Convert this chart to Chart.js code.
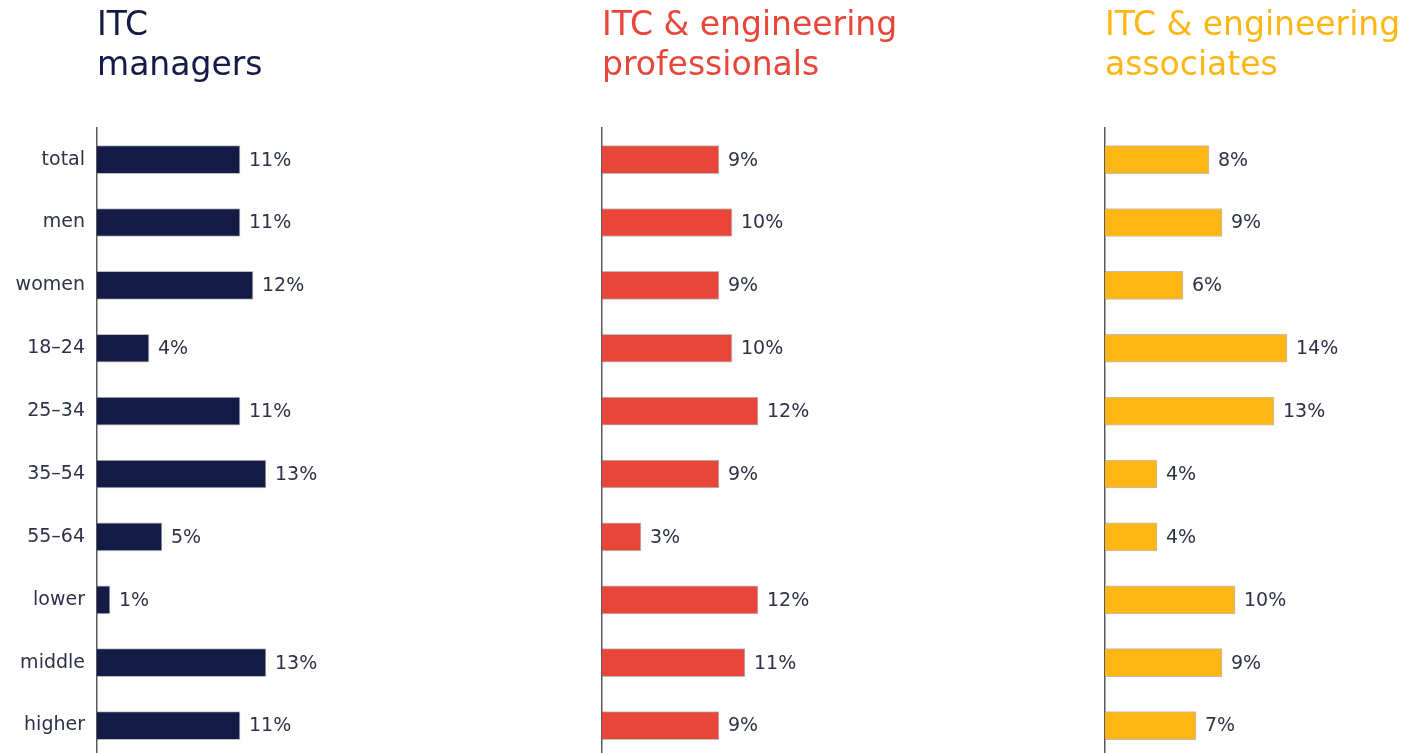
<!DOCTYPE html>
<html>
<head>
<meta charset="utf-8">
<script src="https://cdn.jsdelivr.net/npm/chart.js@4.4.1/dist/chart.umd.min.js"></script>
<style>
    html, body { margin: 0; padding: 0; background: #ffffff; overflow: hidden; width: 1409px; height: 753px; }
    .panel { position: absolute; top: 0; height: 757px; }
</style>
</head>
<body>
<div class="panel" style="left:0px;width:487px"><canvas id="chartManagers"></canvas></div>
<div class="panel" style="left:592px;width:400px"><canvas id="chartProfessionals"></canvas></div>
<div class="panel" style="left:1095px;width:400px"><canvas id="chartAssociates"></canvas></div>
<script>
'use strict';

//colors

var colorNavy = "rgb(020,027,071)";
var colorRed = "rgb(232,070,058)";
var colorYellow = "rgb(253,182,020)";
var colorText = "rgb(046,049,071)";
var colorAxis = "rgb(090,090,090)";

//data

var categories = ["total", "men", "women", "18–24", "25–34", "35–54", "55–64", "lower", "middle", "higher"];
var managers = [11, 11, 12, 4, 11, 13, 5, 1, 13, 11];
var professionals = [9, 10, 9, 10, 12, 9, 3, 12, 11, 9];
var associates = [8, 9, 6, 14, 13, 4, 4, 10, 9, 7];

var font = "'DejaVu Sans', Verdana, sans-serif";

//draws the percentage next to each bar

const valueLabels = {
    id: 'valueLabels',
    afterDatasetsDraw(chart) {
        var ctx = chart.ctx;
        var meta = chart.getDatasetMeta(0);
        var values = chart.data.datasets[0].data;
        ctx.save();
        ctx.font = "19px " + font;
        ctx.fillStyle = colorText;
        ctx.textAlign = "left";
        ctx.textBaseline = "middle";
        meta.data.forEach((bar, i) => {
            ctx.fillText(values[i] + "%", bar.x + 9, bar.y + 1);
        });
        ctx.restore();
    }
};

function makeConfig(title, values, color, showLabels) {
    return {
        type: 'bar',
        data: {
            labels: categories,
            datasets: [{
                data: values,
                backgroundColor: color,
                borderColor: 'rgba(110,110,110,0.45)',
                borderWidth: 1,
                borderSkipped: 'left',
                barThickness: 28
            }]
        },
        options: {
            indexAxis: 'y',
            responsive: true,
            maintainAspectRatio: false,
            animation: false,
            layout: { padding: { top: 7, right: 0, bottom: 0, left: 0 } },
            plugins: {
                legend: { display: false },
                tooltip: { enabled: false },
                title: {
                    display: true,
                    text: title,
                    align: 'start',
                    fullSize: false,
                    color: color,
                    font: { family: font, size: 33, weight: 'normal', lineHeight: 1.2 },
                    padding: { top: 0, bottom: 42 }
                }
            },
            scales: {
                x: {
                    display: false,
                    min: 0,
                    max: 30
                },
                y: {
                    afterFit: function (scale) {
                        //fixed axis position, no extra room for the end labels
                        scale.width = showLabels ? 97 : 10;
                        scale.paddingTop = 0;
                        scale.paddingBottom = 0;
                    },
                    grid: { display: false, drawTicks: false },
                    border: { display: true, color: colorAxis, width: 1.5 },
                    ticks: {
                        display: showLabels,
                        padding: 12,
                        color: colorText,
                        font: { family: font, size: 19 }
                    }
                }
            }
        },
        plugins: [valueLabels]
    };
}

//draw the three panels

new Chart(document.getElementById('chartManagers'),
    makeConfig(["ITC", "managers"], managers, colorNavy, true));

new Chart(document.getElementById('chartProfessionals'),
    makeConfig(["ITC & engineering", "professionals"], professionals, colorRed, false));

new Chart(document.getElementById('chartAssociates'),
    makeConfig(["ITC & engineering", "associates"], associates, colorYellow, false));
</script>
</body>
</html>
